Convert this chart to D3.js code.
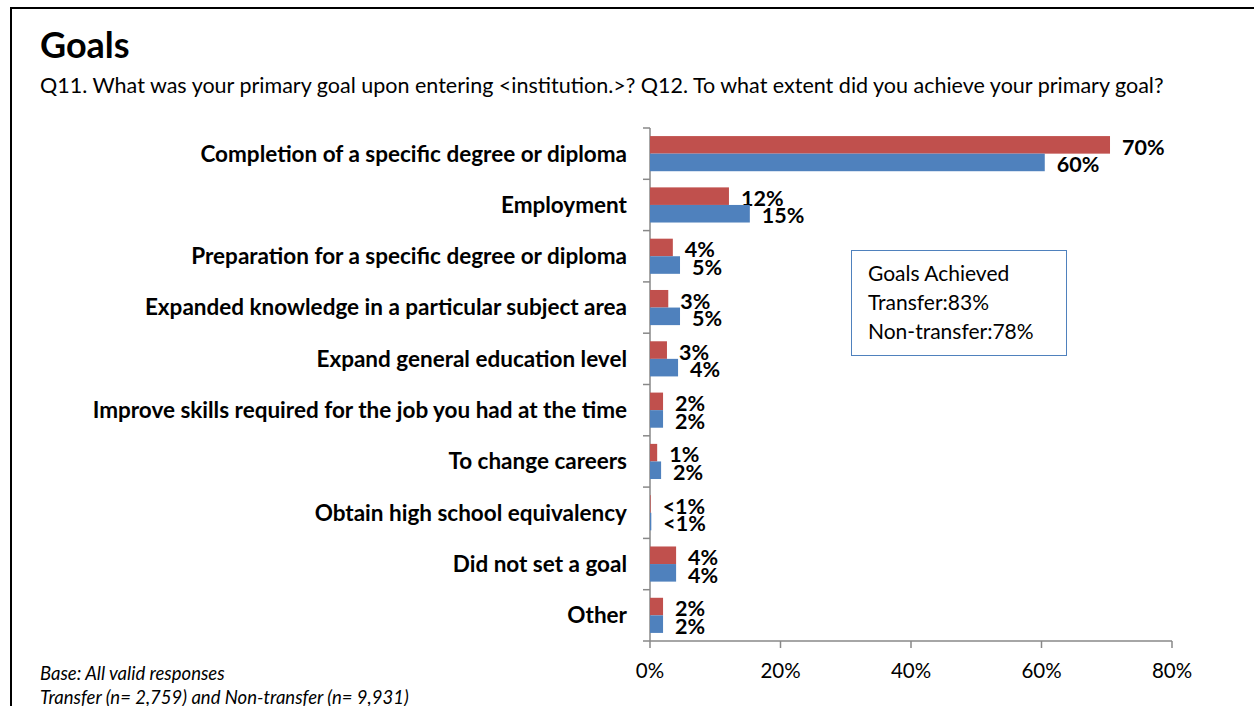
<!DOCTYPE html>
<html><head><meta charset="utf-8">
<script src="https://cdn.jsdelivr.net/npm/d3@7"></script>
<style>body{margin:0;background:#fff}svg{display:block}text{font-family:Lato,"Open Sans",sans-serif}</style>
</head><body><svg id="c" width="1254" height="706"></svg>
<script>
const categories = ["Completion of a specific degree or diploma","Employment","Preparation for a specific degree or diploma","Expanded knowledge in a particular subject area","Expand general education level","Improve skills required for the job you had at the time","To change careers","Obtain high school equivalency","Did not set a goal","Other"];
const transferValues = [70.5, 12.1, 3.5, 2.8, 2.6, 2.0, 1.1, 0.1, 4.0, 2.0];
const nonTransferValues = [60.5, 15.3, 4.6, 4.6, 4.3, 2.0, 1.7, 0.2, 4.0, 2.0];
const transferLabels = ["70%","12%","4%","3%","3%","2%","1%","<1%","4%","2%"];
const nonTransferLabels = ["60%","15%","5%","5%","4%","2%","2%","<1%","4%","2%"];
const xTicks = [0, 20, 40, 60, 80];
const boxLines = ["Goals Achieved","Transfer:83%","Non-transfer:78%"];
const footLines = ["Base: All valid responses","Transfer (n= 2,759) and Non-transfer (n= 9,931)"];

const svg = d3.select("#c");
// outer frame
svg.append("path").attr("d","M11,706 V8 H1254").attr("fill","none").attr("stroke","#000").attr("stroke-width",2);

svg.append("text").attr("x",40).attr("y",58).attr("font-size",36).attr("font-weight",700).text("Goals");
svg.append("text").attr("x",40).attr("y",93).attr("font-size",21.5).text("Q11. What was your primary goal upon entering <institution.>? Q12. To what extent did you achieve your primary goal?");

const x = d3.scaleLinear().domain([0,80]).range([650,1172]);
const y = d3.scaleBand().domain(categories).range([128,641]);
const inner = d3.scaleBand().domain(["t","n"]).range([0,y.bandwidth()]).paddingOuter(0.46).paddingInner(0);

// y axis
const gy = svg.append("g").attr("transform","translate(650,0)");
gy.append("line").attr("y1",128).attr("y2",641).attr("stroke","#888").attr("stroke-width",1.5);
const yTickPos = categories.map(c=>y(c)).concat([641]);
gy.selectAll("line.t").data(yTickPos).join("line").attr("class","t").attr("x1",-7).attr("x2",0).attr("y1",d=>d).attr("y2",d=>d).attr("stroke","#888").attr("stroke-width",1.5);
gy.selectAll("text").data(categories).join("text").attr("x",-23).attr("y",d=>y(d)+y.bandwidth()/2).attr("dy","0.35em").attr("text-anchor","end").attr("font-size",22.5).attr("font-weight",700).text(d=>d);

// x axis
const gx = svg.append("g").attr("transform","translate(0,641)");
gx.append("line").attr("x1",650).attr("x2",1172).attr("stroke","#888").attr("stroke-width",1.5);
gx.selectAll("line.t").data(xTicks).join("line").attr("class","t").attr("x1",d=>x(d)).attr("x2",d=>x(d)).attr("y1",0).attr("y2",7).attr("stroke","#888").attr("stroke-width",1.5);
gx.selectAll("text").data(xTicks).join("text").attr("x",d=>x(d)).attr("y",30).attr("dy","0.35em").attr("text-anchor","middle").attr("font-size",20.5).text(d=>d+"%");

// bars
const series = [
  {key:"t", vals:transferValues, labels:transferLabels, color:"#C0504D"},
  {key:"n", vals:nonTransferValues, labels:nonTransferLabels, color:"#4F81BD"}
];
series.forEach(s=>{
  svg.append("g").selectAll("rect").data(categories).join("rect")
    .attr("x",x(0)).attr("y",(c)=>y(c)+inner(s.key)).attr("height",inner.bandwidth())
    .attr("width",(c,i)=>x(s.vals[i])-x(0)).attr("fill",s.color);
  svg.append("g").selectAll("text").data(categories).join("text")
    .attr("x",(c,i)=>x(s.vals[i])+12).attr("y",(c)=>y(c)+inner(s.key)+inner.bandwidth()/2+2)
    .attr("dy","0.36em").attr("font-size",21.5).attr("font-weight",700).text((c,i)=>s.labels[i]);
});

// box
svg.append("rect").attr("x",851.5).attr("y",250.5).attr("width",215).attr("height",105).attr("fill","#fff").attr("stroke","#4F81BD").attr("stroke-width",1);
svg.append("g").selectAll("text").data(boxLines).join("text").attr("x",868).attr("y",(d,i)=>281+i*29).attr("font-size",21).text(d=>d);

// footer
svg.append("g").selectAll("text").data(footLines).join("text").attr("x",40).attr("y",(d,i)=>680+i*24).attr("font-size",18.5).attr("font-style","italic").text(d=>d);
</script></body></html>
